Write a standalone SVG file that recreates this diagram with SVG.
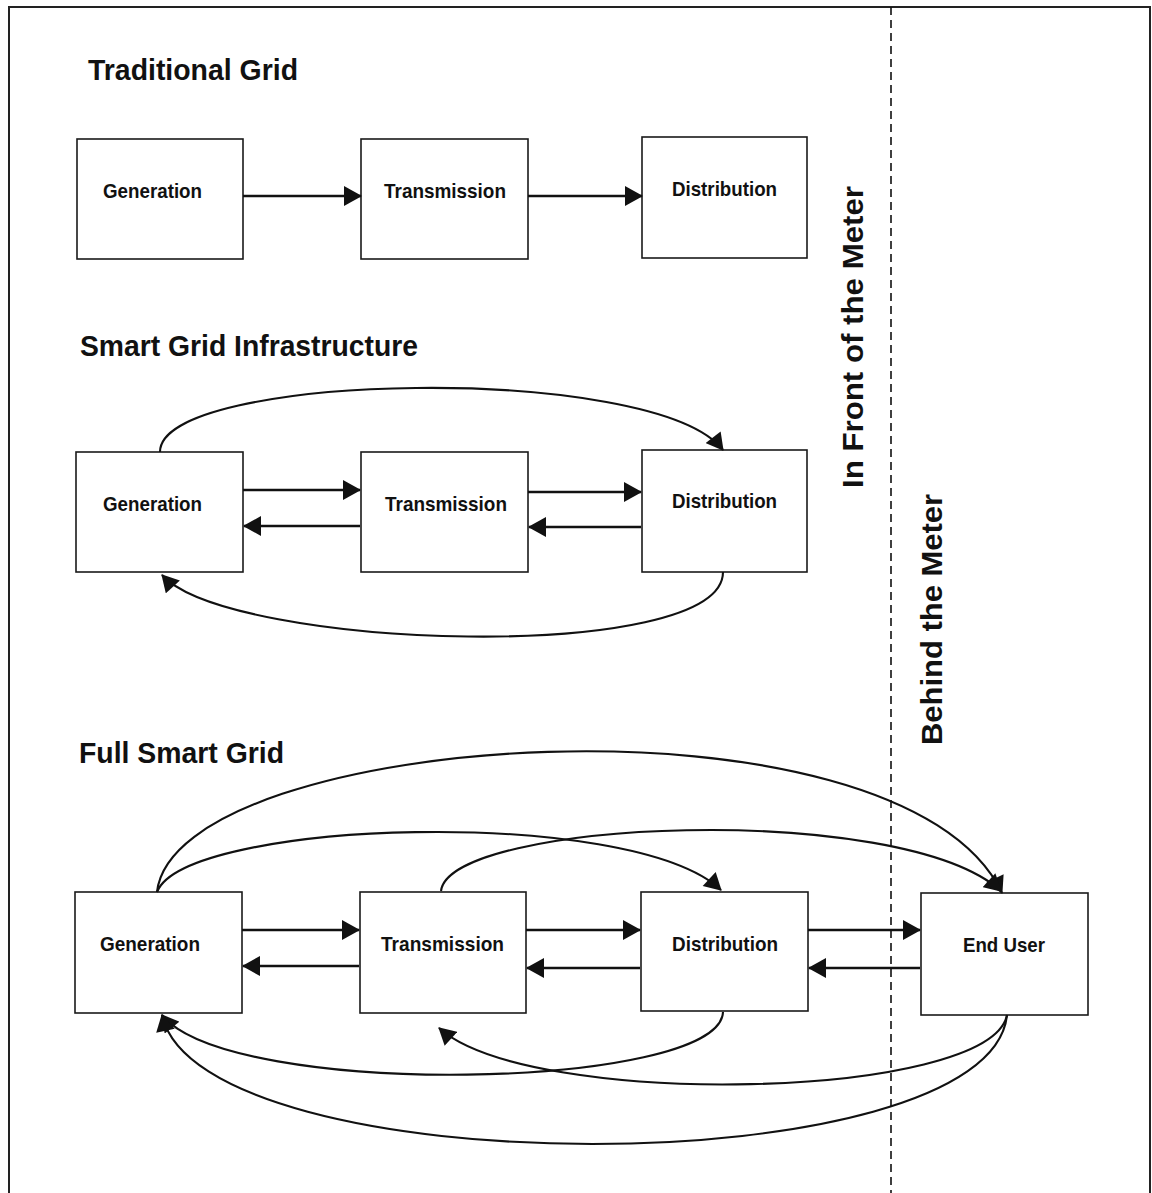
<svg xmlns="http://www.w3.org/2000/svg" width="1152" height="1193" viewBox="0 0 1152 1193">
<style>
.box{fill:#fff;stroke:#1a1a1a;stroke-width:1.6}
.lbl{font-family:"Liberation Sans",Arial,sans-serif;font-weight:bold;font-size:21px;fill:#111}
.ttl{font-family:"Liberation Sans",Arial,sans-serif;font-weight:bold;font-size:30px;fill:#111}
.vt{font-family:"Liberation Sans",Arial,sans-serif;font-weight:bold;font-size:29px;fill:#111}
.ln{fill:none;stroke:#111;stroke-width:2.6;marker-end:url(#ah)}
.cv{fill:none;stroke:#111;stroke-width:2.1;marker-end:url(#ah2)}
</style>
<defs>
<marker id="ah" viewBox="0 0 18 20" refX="17" refY="10" markerWidth="18" markerHeight="20" markerUnits="userSpaceOnUse" orient="auto"><path d="M0,0 L18,10 L0,20 z" fill="#111"/></marker>
<marker id="ah2" viewBox="0 0 18 20" refX="17" refY="10" markerWidth="18" markerHeight="19" markerUnits="userSpaceOnUse" orient="auto"><path d="M0,0 L18,10 L0,20 z" fill="#111"/></marker>
</defs>
<rect x="0" y="0" width="1152" height="1193" fill="#fff"/>
<path d="M9,1193 V7 H1150 V1193" fill="none" stroke="#222" stroke-width="2"/>
<line x1="891" y1="7" x2="891" y2="1193" stroke="#111" stroke-width="1.6" stroke-dasharray="8,5"/>

<g id="titles">
<text class="ttl" x="88" y="80" textLength="210" lengthAdjust="spacingAndGlyphs">Traditional Grid</text>
<text class="ttl" x="80" y="356" textLength="338" lengthAdjust="spacingAndGlyphs">Smart Grid Infrastructure</text>
<text class="ttl" x="79" y="763" textLength="205" lengthAdjust="spacingAndGlyphs">Full Smart Grid</text>
<text class="vt" transform="translate(863,488) rotate(-90)" textLength="302" lengthAdjust="spacingAndGlyphs">In Front of the Meter</text>
<text class="vt" transform="translate(942,745) rotate(-90)" textLength="251" lengthAdjust="spacingAndGlyphs">Behind the Meter</text>
</g>

<g id="tg-generation"><rect class="box" x="77" y="139" width="166" height="120"/><text class="lbl" x="103" y="198" textLength="99" lengthAdjust="spacingAndGlyphs">Generation</text></g>
<g id="tg-transmission"><rect class="box" x="361" y="139" width="167" height="120"/><text class="lbl" x="384" y="198" textLength="122" lengthAdjust="spacingAndGlyphs">Transmission</text></g>
<g id="tg-distribution"><rect class="box" x="642" y="137" width="165" height="121"/><text class="lbl" x="672" y="196" textLength="105" lengthAdjust="spacingAndGlyphs">Distribution</text></g>

<g id="sg-generation"><rect class="box" x="76" y="452" width="167" height="120"/><text class="lbl" x="103" y="511" textLength="99" lengthAdjust="spacingAndGlyphs">Generation</text></g>
<g id="sg-transmission"><rect class="box" x="361" y="452" width="167" height="120"/><text class="lbl" x="385" y="511" textLength="122" lengthAdjust="spacingAndGlyphs">Transmission</text></g>
<g id="sg-distribution"><rect class="box" x="642" y="450" width="165" height="122"/><text class="lbl" x="672" y="508" textLength="105" lengthAdjust="spacingAndGlyphs">Distribution</text></g>

<g id="fg-generation"><rect class="box" x="75" y="892" width="167" height="121"/><text class="lbl" x="100" y="951" textLength="100" lengthAdjust="spacingAndGlyphs">Generation</text></g>
<g id="fg-transmission"><rect class="box" x="360" y="892" width="166" height="121"/><text class="lbl" x="381" y="951" textLength="123" lengthAdjust="spacingAndGlyphs">Transmission</text></g>
<g id="fg-distribution"><rect class="box" x="641" y="892" width="167" height="119"/><text class="lbl" x="672" y="951" textLength="106" lengthAdjust="spacingAndGlyphs">Distribution</text></g>
<g id="fg-enduser"><rect class="box" x="921" y="893" width="167" height="122"/><text class="lbl" x="963" y="952" textLength="82" lengthAdjust="spacingAndGlyphs">End User</text></g>

<g id="connectors">
<path class="ln" d="M243,196 H361"/>
<path class="ln" d="M528,196 H642"/>

<path class="ln" d="M243,490 H360"/>
<path class="ln" d="M360,526 H244"/>
<path class="ln" d="M528,492 H641"/>
<path class="ln" d="M641,527 H529"/>
<path class="cv" d="M160,452 C160,372 655,362 723,450"/>
<path class="cv" d="M723,572 C723,665 230,650 162,575"/>

<path class="ln" d="M242,930 H359"/>
<path class="ln" d="M359,966 H243"/>
<path class="ln" d="M526,930 H640"/>
<path class="ln" d="M640,968 H527"/>
<path class="ln" d="M808,930 H920"/>
<path class="ln" d="M920,968 H809"/>

<path class="cv" d="M157,892 C175,730 900,680 1002,893"/>
<path class="cv" d="M157,892 C185,820 630,805 721,890"/>
<path class="cv" d="M441,891 C450,820 900,800 1001,891"/>
<path class="cv" d="M723,1012 C720,1090 230,1100 162,1015"/>
<path class="cv" d="M1007,1015 C990,1100 530,1110 439,1028"/>
<path class="cv" d="M1007,1015 C990,1187 200,1187 162,1015"/>
</g>
</svg>
